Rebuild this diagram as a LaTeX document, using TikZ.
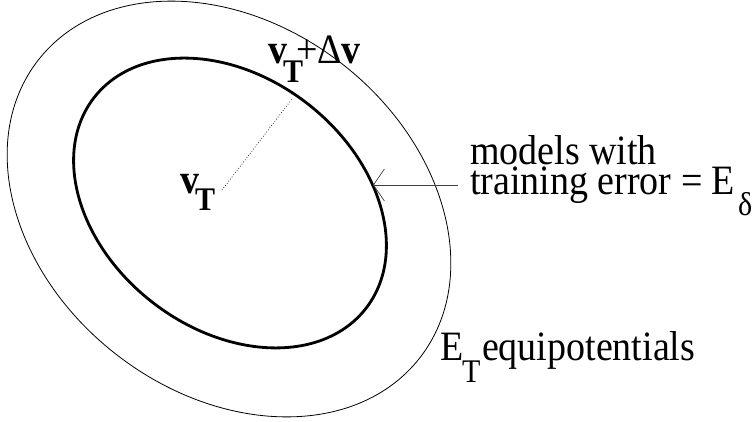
\documentclass[tikz,border=0pt]{standalone}
\usepackage{fontspec}
\setmainfont{Liberation Serif}
\usetikzlibrary{arrows.meta}
\newcommand{\tallbox}[1]{\scalebox{1}[1.1]{#1}}
\begin{document}
\begin{tikzpicture}[x=1pt,y=-1pt,
  txt/.style={inner sep=0pt,outer sep=0pt,anchor=base west,font=\fontsize{38}{38}\selectfont},
  subtxt/.style={inner sep=0pt,outer sep=0pt,anchor=base west,font=\fontsize{30}{30}\selectfont},
  thincurve/.style={line width=0.8pt},
  thickcurve/.style={line width=2.8pt},
  pointer/.style={line width=0.7pt,draw=black!75,-{Straight Barb[length=11pt,width=32pt,line width=0.7pt]}}]
\useasboundingbox (0,0) rectangle (756,421);
% outer equipotential
\coordinate (co) at (229,209);
\draw[thincurve,rotate around={-38:(co)}] (co) ellipse [x radius=242pt, y radius=184pt];
% inner (thick) contour
\coordinate (ci) at (230,203);
\draw[thickcurve,rotate around={-37.7:(ci)}] (ci) ellipse [x radius=172pt, y radius=126pt];
% labels
\node[txt] (vt) at (180,193) {\tallbox{\bfseries v}};
\node[subtxt] (vtT) at (195,210) {\tallbox{\bfseries T}};
\node[txt] (vd) at (268,63) {\tallbox{\bfseries v}};
\node[subtxt] (vdT) at (283,82) {\tallbox{\bfseries T}};
\node[txt] (vdrest) at (296,63) {\tallbox{+Δ\textbf{v}}};
\node[txt] (m1) at (470,164) {\tallbox{models with}};
\node[txt] (m2) at (470,194) {\tallbox{training error = E}};
\node[subtxt] (m3) at (738,215) {\tallbox{δ}};
\node[txt] (e1) at (440,360) {\tallbox{E}};
\node[subtxt] (e2) at (462,382) {\tallbox{T}};
\node[txt] (e3) at (482,360) {\tallbox{equipotentials}};
% dotted radius
\coordinate (p0) at (222,190);
\coordinate (p1) at (292,99);
\draw[dotted,line width=0.7pt] (p0) -- (p1);
% arrow
\coordinate (a0) at (458,185);
\coordinate (a1) at (373,185);
\draw[pointer] (a0) -- (a1);
\end{tikzpicture}
\end{document}
